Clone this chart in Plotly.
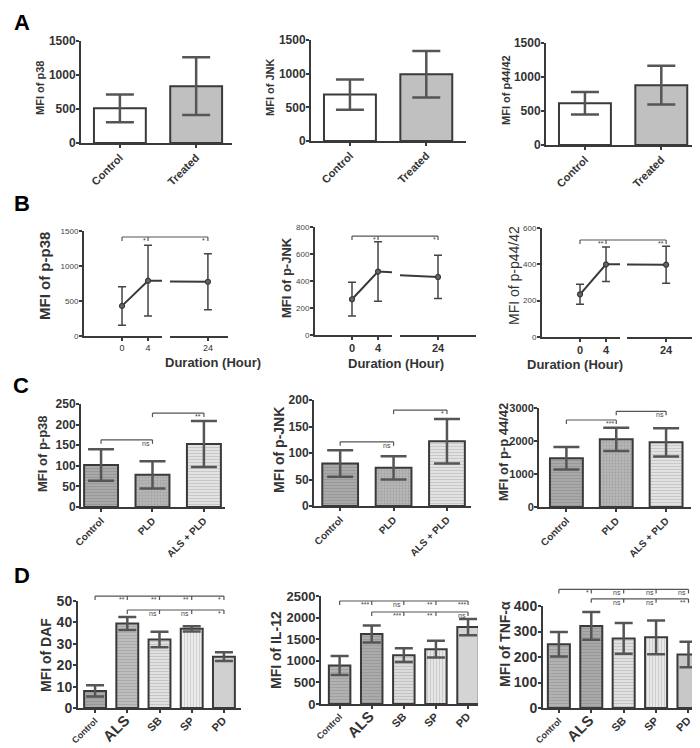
import plotly.graph_objects as go

W, H = 700, 748
FONT = "Liberation Sans, Arial, sans-serif"
INK = "#3a3a3a"
ERR = "#555555"

# ---------------- data ----------------
a_cats = ["Control", "Treated"]
a_p38 = [510, 835]
a_p38_sd = [205, 425]
a_jnk = [690, 990]
a_jnk_sd = [225, 345]
a_p4442 = [615, 880]
a_p4442_sd = [165, 285]

b_hours = [0, 4, 24]
b_pp38 = [430, 790, 775]
b_pp38_sd = [275, 505, 400]
b_pjnk = [265, 470, 430]
b_pjnk_sd = [125, 220, 160]
b_pp4442 = [235, 400, 398]
b_pp4442_sd = [55, 95, 102]

c_cats = ["Control", "PLD", "ALS + PLD"]
c_pp38 = [102, 78, 153]
c_pp38_sd = [38, 33, 56]
c_pjnk = [80, 72, 122]
c_pjnk_sd = [25, 22, 42]
c_pp4442 = [1480, 2050, 1960]
c_pp4442_sd = [340, 355, 430]

d_cats = ["Control", "ALS", "SB", "SP", "PD"]
d_daf = [8, 39.5, 32, 37, 24]
d_daf_sd = [2.6, 3, 3.6, 1.2, 2]
d_il12 = [890, 1620, 1130, 1270, 1780]
d_il12_sd = [220, 195, 160, 195, 190]
d_tnf = [250, 322, 273, 277, 210]
d_tnf_sd = [48, 54, 60, 66, 50]

# significance labels
b_sig_p38 = ["*", "*"]
b_sig_jnk = ["*", "*"]
b_sig_p4442 = ["**", "**"]
c_sig_p38 = ["ns", "**"]
c_sig_jnk = ["ns", "*"]
c_sig_p4442 = ["***", "ns"]
d_sig_daf = [["**", "**", "**", "*"], ["ns", "ns", "*"]]
d_sig_il12 = [["***", "ns", "**", "***"], ["***", "**", "ns"]]
d_sig_tnf = [["*", "ns", "ns", "ns"], ["ns", "ns", "**"]]

fig = go.Figure()
shapes, annots = [], []
count = {"x": 0, "y": 0}


def new_axis(kind, **kw):
    count[kind] += 1
    n = count[kind]
    suffix = str(n) if n > 1 else ""
    fig.update_layout({f"{kind}axis{suffix}": kw})
    return kind + suffix


def base_axis(**kw):
    d = dict(showline=True, linecolor=INK, linewidth=2, ticks="outside",
             tickcolor=INK, tickwidth=2, ticklen=3, showgrid=False,
             zeroline=False, automargin=False, fixedrange=True)
    d.update(kw)
    return d


def mapper(xpx, xr):
    def f(v):
        return (xpx[0] + (v - xr[0]) / (xr[1] - xr[0]) * (xpx[1] - xpx[0])) / W
    return f


def ymapper(ypx, yr):
    def f(v):
        p = ypx[1] - (v - yr[0]) / (yr[1] - yr[0]) * (ypx[1] - ypx[0])
        return 1 - p / H
    return f


def bracket(fx, fy, x0, ends, yv, labels, tick=4):
    y = fy(yv)
    dy = tick / H
    line = dict(type="line", xref="paper", yref="paper",
                line=dict(color="#555", width=1.2))
    shapes.append({**line, "x0": fx(x0), "x1": fx(ends[-1]), "y0": y, "y1": y})
    shapes.append({**line, "x0": fx(x0), "x1": fx(x0), "y0": y, "y1": y - dy})
    for e, lab in zip(ends, labels):
        xe = fx(e)
        shapes.append({**line, "x0": xe, "x1": xe, "y0": y, "y1": y - dy})
        annots.append(dict(x=xe - 1.5 / W, y=y + 1 / H, xref="paper", yref="paper",
                           text=lab, showarrow=False, xanchor="right",
                           yanchor="top", borderpad=0,
                           font=dict(family=FONT, size=7, color="#444")))


def ytitle(text, xpx, ypx, size, bold=True):
    annots.append(dict(x=xpx / W, y=1 - ypx / H, xref="paper", yref="paper",
                       text=text, showarrow=False, textangle=-90,
                       xanchor="center", yanchor="middle", borderpad=0,
                       font=dict(family=FONT, size=size, color="#333",
                                 weight="bold" if bold else "normal")))


def xtitle(text, xpx, ypx):
    annots.append(dict(x=xpx / W, y=1 - ypx / H, xref="paper", yref="paper",
                       text=text, showarrow=False, borderpad=0,
                       font=dict(family=FONT, size=13, color="#333", weight="bold")))


def bar_panel(xpx, ypx, xr, yr, dtick, cats, vals, sd, colors, patterns, width,
              cap, tsize, csize, ticktext=None):
    n = len(cats)
    xa = new_axis("x", **base_axis(
        domain=[xpx[0] / W, xpx[1] / W], range=xr,
        tickmode="array", tickvals=list(range(n)),
        ticktext=ticktext or cats, tickangle=-45, ticklabelstandoff=-1,
        tickfont=dict(family=FONT, size=csize, color="#333", weight="bold")))
    ya = new_axis("y", **base_axis(
        domain=[1 - ypx[1] / H, 1 - ypx[0] / H], range=yr, dtick=dtick,
        tick0=0, anchor=xa, ticklabelstandoff=-2,
        tickfont=dict(family=FONT, size=tsize, color="#333", weight="bold")))
    fig.update_layout({xa.replace("x", "xaxis"): dict(anchor=ya)})
    fig.add_trace(go.Bar(
        x=list(range(n)), y=vals, width=width, xaxis=xa, yaxis=ya,
        marker=dict(color=colors, line=dict(color=INK, width=2),
                    pattern=dict(shape=patterns, fgcolor="#ffffff",
                                 fgopacity=0.18, size=3, solidity=0.3)),
        error_y=dict(type="data", array=sd, color=ERR, thickness=2.5, width=cap),
        hoverinfo="skip"))
    return mapper(xpx, xr), ymapper(ypx, yr)


def line_panel(xl, xrpx, ypx, xr_l, xr_r, yr, dtick, vals, sd, xtsize, xtbold):
    xfont = dict(family=FONT, size=xtsize, color="#333",
                 weight="bold" if xtbold else "normal")
    xa = new_axis("x", **base_axis(
        domain=[xl[0] / W, xl[1] / W], range=xr_l, tickmode="array",
        tickvals=[h for h in b_hours if h <= xr_l[1]], tickfont=xfont,
        ticklabelstandoff=-1))
    xb = new_axis("x", **base_axis(
        domain=[xrpx[0] / W, xrpx[1] / W], range=xr_r, tickmode="array",
        tickvals=[h for h in b_hours if h >= xr_r[0]], tickfont=xfont,
        ticklabelstandoff=-1))
    ya = new_axis("y", **base_axis(
        domain=[1 - ypx[1] / H, 1 - ypx[0] / H], range=yr, dtick=dtick,
        tick0=0, anchor=xa, ticklabelstandoff=-1,
        tickfont=dict(family=FONT, size=8, color="#444")))
    fig.update_layout({xa.replace("x", "xaxis"): dict(anchor=ya),
                       xb.replace("x", "xaxis"): dict(anchor=ya)})
    for ax in (xa, xb):
        fig.add_trace(go.Scatter(
            x=b_hours, y=vals, xaxis=ax, yaxis=ya, mode="lines+markers",
            line=dict(color=INK, width=2),
            marker=dict(size=5, color="#666", line=dict(color=INK, width=1.2)),
            error_y=dict(type="data", array=sd, color="#444", thickness=1.5, width=4),
            hoverinfo="skip"))
    fl, fr = mapper(xl, xr_l), mapper(xrpx, xr_r)

    def fx(v):
        return fl(v) if v <= xr_l[1] else fr(v)
    return fx, ymapper(ypx, yr)


# ---------------- row A ----------------
a_colors = ["#ffffff", "#c0c0c0"]
a_pat = ["", ""]
fx, fy = bar_panel((73, 224), (33, 135), [-0.51, 1.47], [0, 1500], 500,
                   a_cats, a_p38, a_p38_sd, a_colors, a_pat, 0.68, 14, 12, 11)
ytitle("MFI of p38", 32, 80, 11)
fx, fy = bar_panel((303, 458), (32, 133), [-0.51, 1.52], [0, 1500], 500,
                   a_cats, a_jnk, a_jnk_sd, a_colors, a_pat, 0.68, 14, 12, 11)
ytitle("MFI of JNK", 262, 80, 11)
fx, fy = bar_panel((538, 693), (35, 137), [-0.51, 1.52], [0, 1500], 500,
                   a_cats, a_p4442, a_p4442_sd, a_colors, a_pat, 0.68, 14, 12, 11)
ytitle("MFI of p44/42", 498, 82, 11)

# ---------------- row B ----------------
fx, fy = line_panel((76, 154), (162, 220), (223, 328), [-5.85, 6.15], [18.15, 27.1],
                    [0, 1500], 500, b_pp38, b_pp38_sd, 9, False)
bracket(fx, fy, 0, [4, 24], 1414, b_sig_p38)
ytitle("MFI of p-p38", 36, 268, 15)
xtitle("Duration (Hour)", 156, 354)

fx, fy = line_panel((307, 384), (392, 468), (219, 327), [-5.69, 6.15], [18.15, 29.85],
                    [0, 800], 200, b_pjnk, b_pjnk_sd, 11, True)
bracket(fx, fy, 0, [4, 24], 733, b_sig_jnk)
ytitle("MFI of p-JNK", 278, 270, 13)
xtitle("Duration (Hour)", 388, 355)

fx, fy = line_panel((534, 612), (619, 692), (220, 329), [-5.85, 6.15], [18.0, 29.2],
                    [0, 600], 200, b_pp4442, b_pp4442_sd, 11, True)
bracket(fx, fy, 0, [4, 24], 534, b_sig_p4442)
ytitle("MFI of p-p44/42", 506, 268, 14, bold=False)
xtitle("Duration (Hour)", 616, 356)

# ---------------- row C ----------------
c_colors = ["#a9a9a9", "#b6b6b6", "#e2e2e2"]
c_pat = ["-", ".", "-"]
fx, fy = bar_panel((73, 217), (396, 499), [-0.39, 2.41], [0, 250], 50,
                   c_cats, c_pp38, c_pp38_sd, c_colors, c_pat, 0.66, 13, 12, 10)
bracket(fx, fy, 0, [1], 163, c_sig_p38[:1])
bracket(fx, fy, 1, [2], 228, c_sig_p38[1:])
ytitle("MFI of p-p38", 34, 446, 13)

fx, fy = bar_panel((306, 463), (392, 498), [-0.49, 2.45], [0, 200], 50,
                   c_cats, c_pjnk, c_pjnk_sd, c_colors, c_pat, 0.67, 13, 12, 10)
bracket(fx, fy, 0, [1], 121, c_sig_jnk[:1])
bracket(fx, fy, 1, [2], 181, c_sig_jnk[1:])
ytitle("MFI of p-JNK", 271, 442, 14)

fx, fy = bar_panel((531, 683), (400, 499), [-0.55, 2.5], [0, 3000], 1000,
                   c_cats, c_pp4442, c_pp4442_sd, c_colors, c_pat, 0.66, 13, 11, 10)
bracket(fx, fy, 0, [1], 2636, c_sig_p4442[:1])
bracket(fx, fy, 1, [2], 2900, c_sig_p4442[1:])
ytitle("MFI of p-p 44/42", 495, 444, 13)

# ---------------- row D ----------------
# base tick font is the small "Control" size; larger labels get a span
d_sizes = [None, 15, 11, 11, 11]
d_text = [c if s is None else f"<span style='font-size:{s}px'>{c}</span>"
          for c, s in zip(d_cats, d_sizes)]
d_pat = ["-", "-", "-", "|", ""]

fx, fy = bar_panel((70, 233), (593, 700), [-0.53, 4.53], [0, 50], 10,
                   d_cats, d_daf, d_daf_sd,
                   ["#a9a9a9", "#bdbdbd", "#e0e0e0", "#ececec", "#d0d0d0"],
                   d_pat, 0.68, 9, 14, 9, ticktext=d_text)
bracket(fx, fy, 0, [1, 2, 3, 4], 52.3, d_sig_daf[0])
bracket(fx, fy, 1, [2, 3, 4], 45.8, d_sig_daf[1])
ytitle("MFI of DAF", 38, 647, 14)

fx, fy = bar_panel((313, 470), (588, 696), [-0.58, 4.31], [0, 2500], 500,
                   d_cats, d_il12, d_il12_sd,
                   ["#b2b2b2", "#ababab", "#dcdcdc", "#e6e6e6", "#d4d4d4"],
                   d_pat, 0.67, 9, 13, 9, ticktext=d_text)
bracket(fx, fy, 0, [1, 2, 3, 4], 2384, d_sig_il12[0])
bracket(fx, fy, 1, [2, 3, 4], 2130, d_sig_il12[1])
ytitle("MFI of IL-12", 268, 642, 14)

fx, fy = bar_panel((535, 697), (598, 700), [-0.49, 4.51], [0, 400], 100,
                   d_cats, d_tnf, d_tnf_sd,
                   ["#b2b2b2", "#a9a9a9", "#e0e0e0", "#e8e8e8", "#c8c8c8"],
                   d_pat, 0.68, 9, 14, 9, ticktext=d_text)
bracket(fx, fy, 0, [1, 2, 3, 4], 465, d_sig_tnf[0])
bracket(fx, fy, 1, [2, 3, 4], 428, d_sig_tnf[1])
ytitle("MFI of TNF-α", 497, 636, 14)

# ---------------- panel letters ----------------
for letter, (lx, ly) in zip("ABCD", [(14, 15), (14, 195), (13, 377), (14, 567)]):
    annots.append(dict(x=lx / W, y=1 - ly / H, xref="paper", yref="paper",
                       text=letter, showarrow=False, xanchor="center", yanchor="middle",
                       font=dict(family=FONT, size=22, color="#000", weight="bold")))

fig.update_layout(width=W, height=H, margin=dict(l=0, r=0, t=0, b=0),
                  paper_bgcolor="white", plot_bgcolor="white", showlegend=False,
                  barmode="overlay", shapes=shapes, annotations=annots,
                  font=dict(family=FONT))
fig.write_html("out.html")
